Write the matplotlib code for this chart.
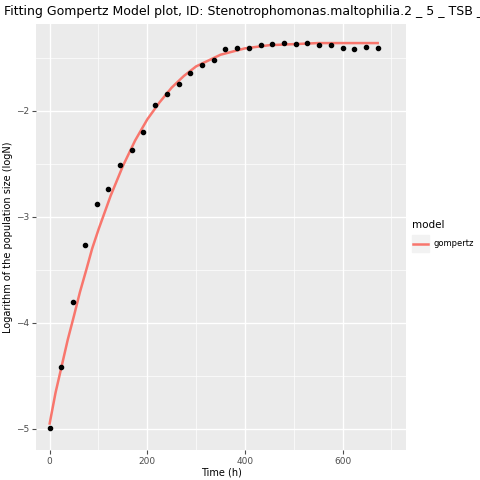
import matplotlib
matplotlib.use("Agg")
import matplotlib.pyplot as plt
from matplotlib.lines import Line2D

time_h = [0, 24, 48, 72, 96, 120, 144, 168, 192, 216, 240, 264, 288, 312, 336, 360,
          384, 408, 432, 456, 480, 504, 528, 552, 576, 600, 624, 648, 672]
log_n = [-4.99, -4.42, -3.80, -3.27, -2.88, -2.74, -2.51, -2.37, -2.20, -1.94, -1.84,
         -1.75, -1.64, -1.57, -1.52, -1.42, -1.41, -1.41, -1.38, -1.37, -1.36, -1.37,
         -1.36, -1.38, -1.38, -1.41, -1.42, -1.40, -1.41]

fit_t = [0, 12, 25, 37, 50, 62, 75, 87, 100, 125, 150, 175, 200, 225, 250, 275, 300,
         350, 400, 450, 500, 550, 600, 672]
fit_y = [-4.95, -4.66, -4.40, -4.16, -3.93, -3.71, -3.50, -3.30, -3.12, -2.80, -2.52,
         -2.28, -2.08, -1.92, -1.78, -1.67, -1.58, -1.47, -1.41, -1.38, -1.37, -1.36,
         -1.36, -1.36]

PANEL = "#ebebeb"
fig = plt.figure(figsize=(4.8, 4.8), dpi=100)
ax = fig.add_axes([36/480, 30/480, 370/480, 426/480], facecolor=PANEL)

ax.plot(fit_t, fit_y, color="#f8766d", lw=1.8, zorder=3)
ax.scatter(time_h, log_n, s=9, color="black", zorder=4)

ax.set_xlim(-28, 730)
ax.set_ylim(-5.2, -1.18)
ax.set_xticks([0, 200, 400, 600])
ax.set_yticks([-5, -4, -3, -2])
ax.set_xticks([100, 300, 500, 700], minor=True)
ax.set_yticks([-4.5, -3.5, -2.5, -1.5], minor=True)
ax.grid(which="major", color="white", lw=1.0)
ax.grid(which="minor", color="white", lw=0.5)
ax.set_axisbelow(True)
for sp in ax.spines.values():
    sp.set_visible(False)
ax.tick_params(which="major", colors="#4d4d4d", labelsize=6.5, length=3, pad=2,
               labelcolor="#4d4d4d")
ax.tick_params(which="minor", length=0)
ax.set_xlabel("Time (h)", fontsize=7, labelpad=1)
ax.set_ylabel("Logarithm of the population size (logN)", fontsize=7, labelpad=2)

fig.text(4/480, 1 - 12/480, "Fitting Gompertz Model plot, ID: Stenotrophomonas.maltophilia.2 _ 5 _ TSB _",
         fontsize=9, va="center", ha="left")

fig.text(412/480, 1 - 225/480, "model", fontsize=7.5, va="center")
fig.patches.append(plt.Rectangle((412/480, 1 - 252/480), 17/480, 17/480,
                                 transform=fig.transFigure, color="#f2f2f2"))
fig.lines.append(Line2D([413/480, 428/480], [1 - 243.5/480] * 2, transform=fig.transFigure,
                        color="#f8766d", lw=1.8))
fig.text(433/480, 1 - 243.5/480, "gompertz", fontsize=6, va="center")

fig.savefig("out.png", dpi=100)
